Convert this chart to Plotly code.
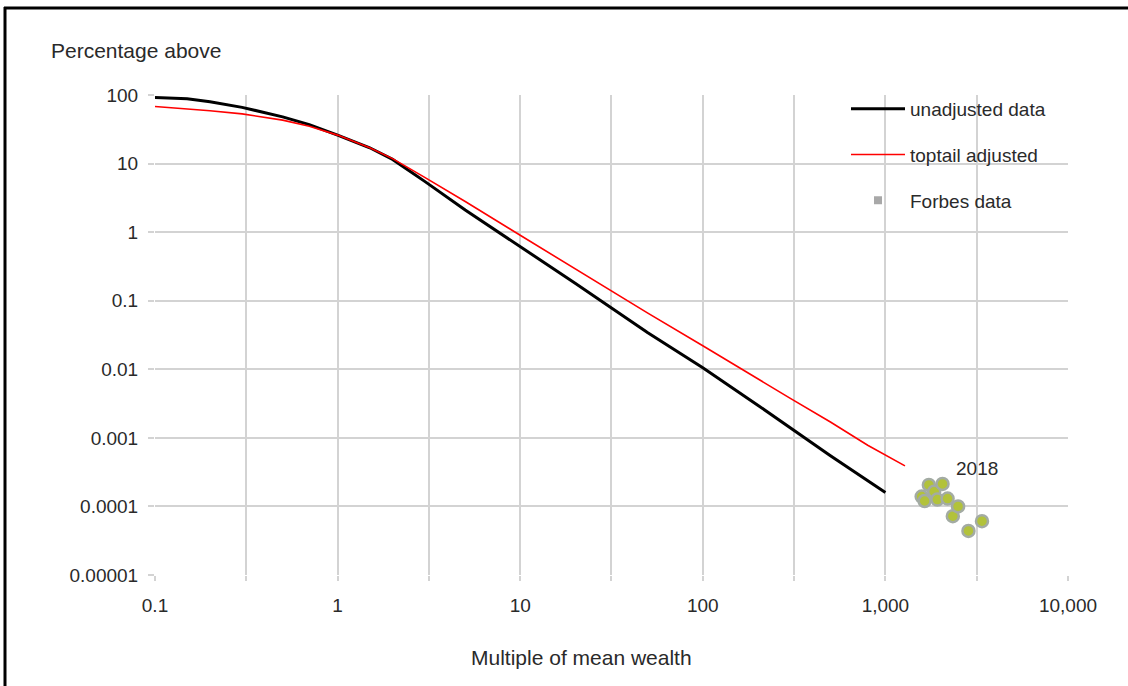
import plotly.graph_objects as go

# ---- data ----
x_unadj = [0.1, 0.15, 0.2, 0.3, 0.5, 0.7, 1, 1.5, 2, 3, 5, 10, 20, 50, 100, 200, 500, 1000]
y_unadj = [92, 88, 80, 66, 48, 37, 26, 17, 11.5, 5.5, 2.1, 0.62, 0.18, 0.034, 0.0105, 0.0030, 0.00055, 0.00016]

x_adj = [0.1, 0.15, 0.2, 0.3, 0.5, 0.7, 1, 1.5, 2, 3, 5, 10, 20, 50, 100, 200, 300, 500, 800, 1280]
y_adj = [68, 63, 59, 53, 43, 35, 26, 17, 11.8, 6.3, 2.8, 0.9, 0.29, 0.066, 0.022, 0.0072, 0.0038, 0.0017, 0.00078, 0.00039]

forbes_x = [1580, 1640, 1730, 1850, 1925, 2055, 2190, 2340, 2500, 2850, 3380]
forbes_y = [0.000139, 0.00012, 0.000206, 0.000164, 0.000126, 0.000213, 0.00013, 0.000072, 0.0001, 0.000044, 0.000061]

x_tickvals = [0.1, 1, 10, 100, 1000, 10000]
x_ticktext = ["0.1", "1", "10", "100", "1,000", "10,000"]
x_minorvals = [0.316, 3.16, 31.6, 316, 3162]
y_tickvals = [100, 10, 1, 0.1, 0.01, 0.001, 0.0001, 0.00001]
y_ticktext = ["100", "10", "1", "0.1", "0.01", "0.001", "0.0001", "0.00001"]

FONT = "Liberation Sans, Arial, sans-serif"
TXT = "#2a2a2a"
GRID = "#d3d3d3"

fig = go.Figure()
fig.add_trace(go.Scatter(x=x_unadj, y=y_unadj, mode="lines", name="unadjusted data",
                         line=dict(color="black", width=3), legendgroup="a"))
fig.add_trace(go.Scatter(x=x_adj, y=y_adj, mode="lines", name="toptail adjusted",
                         line=dict(color="#ff0000", width=1.6), legendgroup="b"))
fig.add_trace(go.Scatter(x=forbes_x, y=forbes_y, mode="markers", name="Forbes data",
                         showlegend=False,
                         marker=dict(color="#b2c23a", size=12, line=dict(color="#a3aba3", width=2.5))))
fig.add_trace(go.Scatter(x=[None], y=[None], mode="markers", name="Forbes data", legendgroup="c",
                         marker=dict(color="#a8a8a8", size=8, symbol="square")))

L, R, T, B = 155, 60, 95, 111
W, H = 1128, 686
pw, ph = W - L - R, H - T - B

def px(xp):
    return (xp - L) / pw

def py(yp):
    return (H - B - yp) / ph

fig.update_layout(
    width=W, height=H,
    margin=dict(l=L, r=R, t=T, b=B),
    paper_bgcolor="white", plot_bgcolor="white",
    font=dict(family=FONT, size=19, color=TXT),
    showlegend=True,
    legend=dict(x=px(846), y=py(90), xanchor="left", yanchor="top",
                bgcolor="rgba(0,0,0,0)", tracegroupgap=18, itemwidth=54,
                font=dict(family=FONT, size=19, color=TXT), traceorder="grouped"),
    xaxis=dict(type="log", range=[-1, 4], tickvals=x_tickvals, ticktext=x_ticktext,
               showgrid=True, gridcolor=GRID, gridwidth=1.5, zeroline=False, showline=False,
               ticks="outside", ticklen=5, tickcolor=GRID, tickwidth=1.5, ticklabelstandoff=8,
               minor=dict(tickvals=x_minorvals, showgrid=True, gridcolor=GRID, gridwidth=1.5,
                          ticks="outside", ticklen=5, tickcolor=GRID),
               tickfont=dict(size=19, color=TXT)),
    yaxis=dict(type="log", range=[-5, 2], tickvals=y_tickvals, ticktext=y_ticktext,
               showgrid=True, gridcolor=GRID, gridwidth=1.5, zeroline=False, showline=False,
               ticks="outside", ticklen=6, tickcolor=GRID, tickwidth=1.5, ticklabelstandoff=6,
               tickfont=dict(size=19, color=TXT)),
    shapes=[
        dict(type="rect", xref="paper", yref="paper", x0=px(798), x1=1.0, y0=py(228), y1=1.0,
             fillcolor="white", line=dict(width=0), layer="between"),
        dict(type="line", xref="paper", yref="paper", x0=px(4), x1=px(1130), y0=py(8), y1=py(8),
             line=dict(color="black", width=3)),
        dict(type="line", xref="paper", yref="paper", x0=px(5), x1=px(5), y0=py(7), y1=py(690),
             line=dict(color="black", width=3)),
    ],
    annotations=[
        dict(text="Percentage above", xref="paper", yref="paper", x=px(49), y=py(50),
             xanchor="left", yanchor="middle", showarrow=False, font=dict(size=21, color=TXT)),
        dict(text="Multiple of mean wealth", xref="paper", yref="paper", x=px(581), y=py(657),
             xanchor="center", yanchor="middle", showarrow=False, font=dict(size=21, color=TXT)),
        dict(text="2018", xref="x", yref="y", x=3.5, y=-3.44, xanchor="center", yanchor="middle",
             showarrow=False, font=dict(size=19, color=TXT)),
    ],
)

fig.write_html("out.html", config={"displayModeBar": False},
               post_script="document.body.style.margin='0';")
